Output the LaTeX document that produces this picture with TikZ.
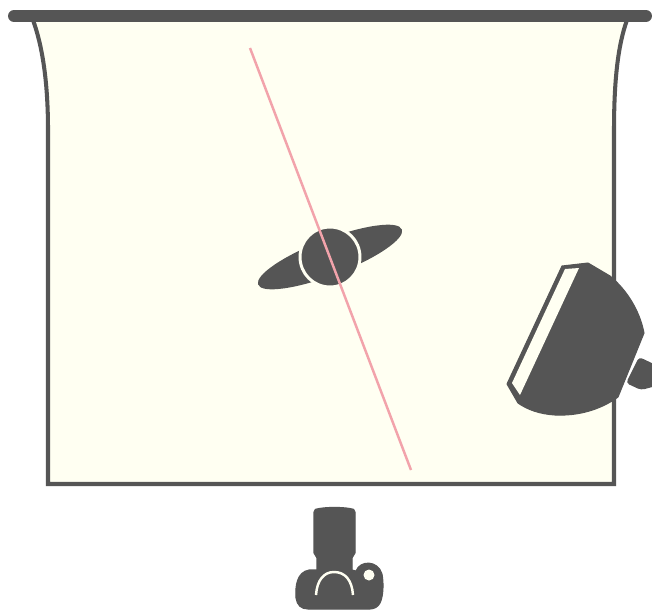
\documentclass[tikz,border=0pt]{standalone}
\usetikzlibrary{shapes.geometric}
\definecolor{gear}{HTML}{555555}
\definecolor{paper}{HTML}{FFFFF2}
\definecolor{axisline}{HTML}{F2A3AB}
\begin{document}
\begin{tikzpicture}[x=0.02cm,y=-0.02cm,
  solid gear/.style={fill=gear,draw=gear,line width=0.6pt,line join=round},
  gap/.style={fill=paper,draw=none}]
  \useasboundingbox (0,0) rectangle (652,610);
  % backdrop
  \fill[white] (0,0) rectangle (652,610);
  \draw[fill=paper,draw=gear,line width=2.3pt] (33,20) .. controls (42,45) and (48,80) .. (48,130)
    -- (48,484) -- (614,484) -- (614,130) .. controls (614,80) and (618,45) .. (627,20);
  \draw[gear,line width=6.8pt,line cap=round] (14,16) -- (646,16);
  % subject
  \node[ellipse,fill=gear,minimum width=3.08cm,minimum height=0.72cm,inner sep=0pt,rotate=21] (shoulders) at (330,257) {};
  \node[circle,fill=gear,draw=paper,line width=1.7pt,minimum size=1.2cm,inner sep=0pt] (head) at (330,257) {};
  \draw[axisline,line width=1.4pt] (250,48) -- (411,470);
  % flash
  \fill[gear,rounded corners=2pt] (639,357) -- (656,365) -- (656,386) -- (641,390) -- (626,383) -- cycle;
  \fill[solid gear] (507,384) -- (562,266) -- (588,263) -- (610,276)
    .. controls (628,291) and (640,312) .. (644,333)
    -- (618,397) .. controls (600,410) and (578,416) .. (555,415)
    .. controls (540,414) and (528,410) .. (518,403) -- cycle;
  \fill[gap] (565,269) -- (579,268) -- (520,395) -- (512,383) -- cycle;
  % camera
  \fill[solid gear] (314,512) .. controls (314,509) and (316,509) .. (319,508.5)
    .. controls (328,507) and (341,507) .. (350,508.5)
    .. controls (353,509) and (355,509) .. (355,512)
    -- (355,553) .. controls (355,556) and (352,555) .. (352,558) -- (352,575) -- (317,575) -- (317,558)
    .. controls (317,555) and (314,556) .. (314,553) -- cycle;
  \fill[solid gear] (356,571) .. controls (360,560) and (378,560) .. (382,574)
    .. controls (384,585) and (383,597) .. (380,603)
    .. controls (378,607) and (374,609) .. (370,609) -- (308,609)
    .. controls (301,609) and (297,605) .. (296,598)
    .. controls (295,586) and (297,572) .. (309,570)
    -- (320,570) -- (352,570) -- cycle;
  \fill[paper] (369,575) circle (5.5);
  \draw[paper,line width=1.4pt] (316,595) .. controls (317,580) and (324,572) .. (334,572)
    .. controls (345,572) and (352,580) .. (353,595);
\end{tikzpicture}
\end{document}
